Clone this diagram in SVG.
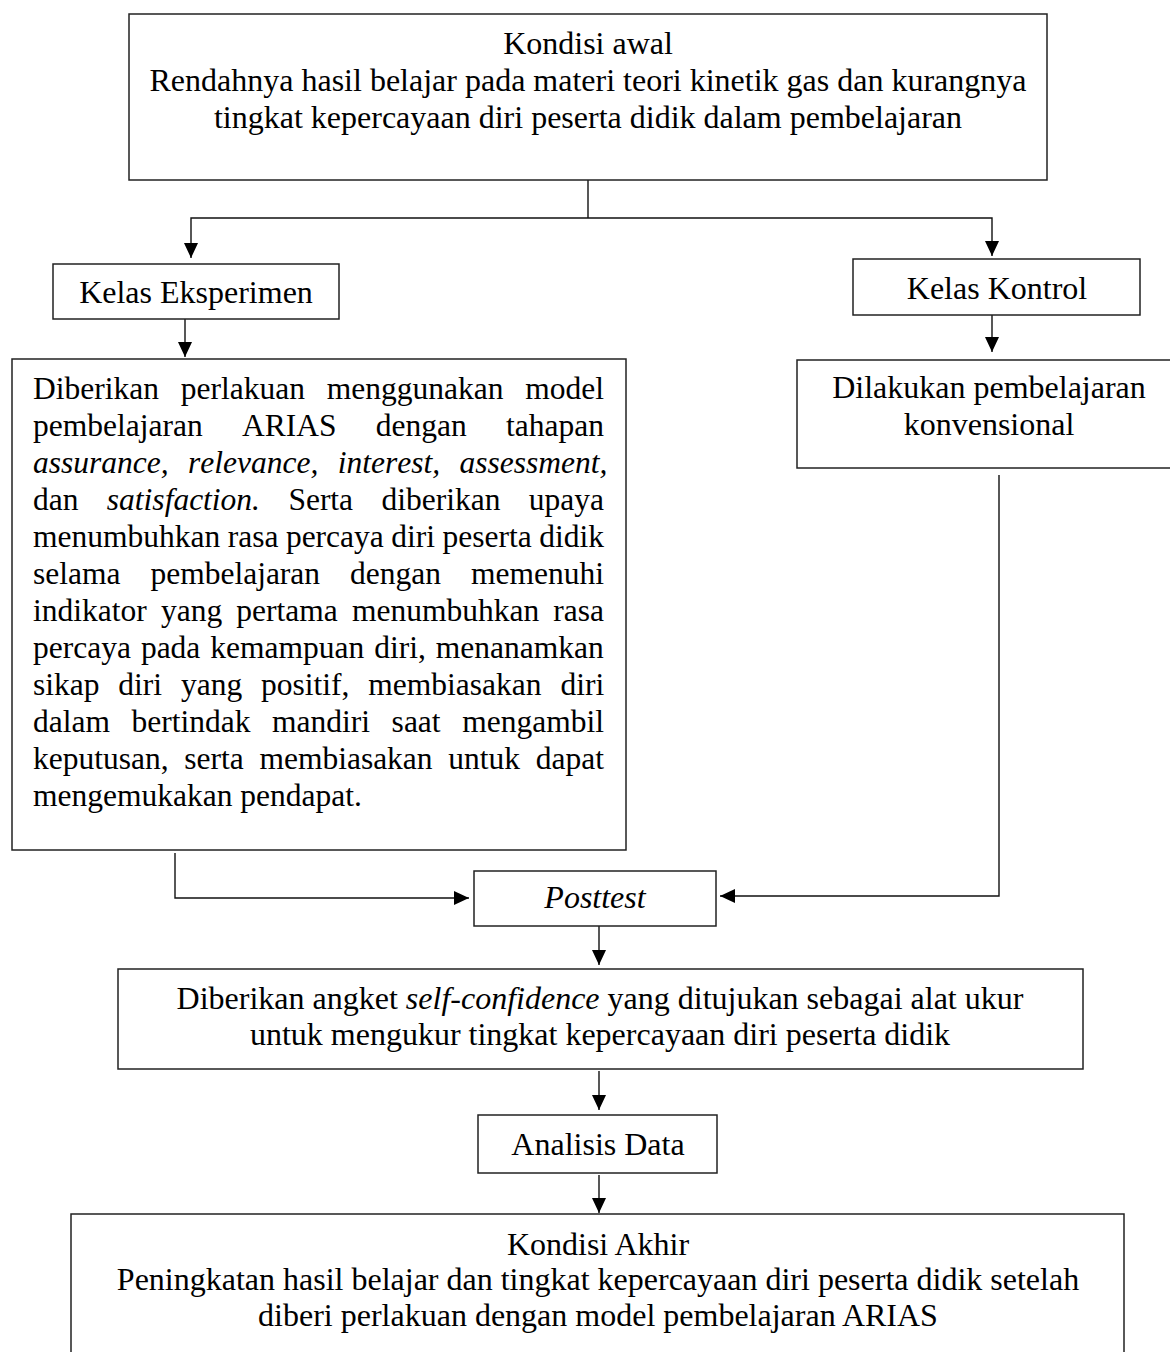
<svg xmlns="http://www.w3.org/2000/svg" width="1170" height="1352" viewBox="0 0 1170 1352">
<defs>
<style>
.box{fill:#fff;stroke:#222;stroke-width:1.5}
.t{font-family:"Liberation Serif","Times New Roman",serif;font-size:32px;fill:#000;text-anchor:middle}
.j{font-family:"Liberation Serif","Times New Roman",serif;font-size:31.5px;fill:#000;font-kerning:none}
.i{font-style:italic}
.c{fill:none;stroke:#111;stroke-width:1.4}
</style>
<marker id="ah" markerUnits="userSpaceOnUse" markerWidth="15" markerHeight="14" refX="15" refY="7" orient="auto">
<path d="M0,0 L15,7 L0,14 z" fill="#000"/>
</marker>
</defs>
<rect width="1170" height="1352" fill="#fff"/>

<g id="connectors">
<path class="c" d="M588,180 V218"/>
<path class="c" d="M588,218 H191 V258" marker-end="url(#ah)"/>
<path class="c" d="M588,218 H992 V256" marker-end="url(#ah)"/>
<path class="c" d="M185,319 V357" marker-end="url(#ah)"/>
<path class="c" d="M992,315 V352" marker-end="url(#ah)"/>
<path class="c" d="M175,853 V898 H469" marker-end="url(#ah)"/>
<path class="c" d="M999,475 V896 H720" marker-end="url(#ah)"/>
<path class="c" d="M599,926 V965" marker-end="url(#ah)"/>
<path class="c" d="M599,1071 V1110" marker-end="url(#ah)"/>
<path class="c" d="M599,1175 V1213" marker-end="url(#ah)"/>
</g>

<g id="kondisi-awal">
<rect class="box" x="129" y="14" width="918" height="166"/>
<text class="t" x="588" y="54">Kondisi awal</text>
<text class="t" x="588" y="91">Rendahnya hasil belajar pada materi teori kinetik gas dan kurangnya</text>
<text class="t" x="588" y="128">tingkat kepercayaan diri peserta didik dalam pembelajaran</text>
</g>

<g id="kelas-eksperimen">
<rect class="box" x="53" y="264" width="286" height="55"/>
<text class="t" x="196" y="303">Kelas Eksperimen</text>
</g>

<g id="kelas-kontrol">
<rect class="box" x="853" y="259" width="287" height="56"/>
<text class="t" x="997" y="299">Kelas Kontrol</text>
</g>

<g id="perlakuan-eksperimen">
<rect class="box" x="12" y="359" width="614" height="491"/>
<text class="j" x="33" y="399" word-spacing="13.9">Diberikan perlakuan menggunakan model</text>
<text class="j" x="33" y="436" word-spacing="31.4">pembelajaran ARIAS dengan tahapan</text>
<text class="j" x="33" y="473" word-spacing="11.5"><tspan class="i">assurance, relevance, interest, assessment,</tspan></text>
<text class="j" x="33" y="510" word-spacing="20.5">dan <tspan class="i">satisfaction.</tspan> Serta diberikan upaya</text>
<text class="j" x="33" y="547" word-spacing="-0.4">menumbuhkan rasa percaya diri peserta didik</text>
<text class="j" x="33" y="584" word-spacing="22.1">selama pembelajaran dengan memenuhi</text>
<text class="j" x="33" y="621" word-spacing="6.3">indikator yang pertama menumbuhkan rasa</text>
<text class="j" x="33" y="658" word-spacing="2.1">percaya pada kemampuan diri, menanamkan</text>
<text class="j" x="33" y="695" word-spacing="11">sikap diri yang positif, membiasakan diri</text>
<text class="j" x="33" y="732" word-spacing="13.7">dalam bertindak mandiri saat mengambil</text>
<text class="j" x="33" y="769" word-spacing="7.8">keputusan, serta membiasakan untuk dapat</text>
<text class="j" x="33" y="806">mengemukakan pendapat.</text>
</g>

<g id="pembelajaran-konvensional">
<rect class="box" x="797" y="360" width="385" height="108"/>
<text class="t" x="989" y="398">Dilakukan pembelajaran</text>
<text class="t" x="989" y="435">konvensional</text>
</g>

<g id="posttest">
<rect class="box" x="474" y="871" width="242" height="55"/>
<text class="t i" x="595" y="908">Posttest</text>
</g>

<g id="angket">
<rect class="box" x="118" y="969" width="965" height="100"/>
<text class="t" x="600" y="1009">Diberikan angket <tspan class="i">self-confidence</tspan> yang ditujukan sebagai alat ukur</text>
<text class="t" x="600" y="1045">untuk mengukur tingkat kepercayaan diri peserta didik</text>
</g>

<g id="analisis-data">
<rect class="box" x="478" y="1115" width="239" height="58"/>
<text class="t" x="598" y="1155">Analisis Data</text>
</g>

<g id="kondisi-akhir">
<rect class="box" x="71" y="1214" width="1053" height="160"/>
<text class="t" x="598" y="1255">Kondisi Akhir</text>
<text class="t" x="598" y="1290">Peningkatan hasil belajar dan tingkat kepercayaan diri peserta didik setelah</text>
<text class="t" x="598" y="1326">diberi perlakuan dengan model pembelajaran ARIAS</text>
</g>
</svg>
